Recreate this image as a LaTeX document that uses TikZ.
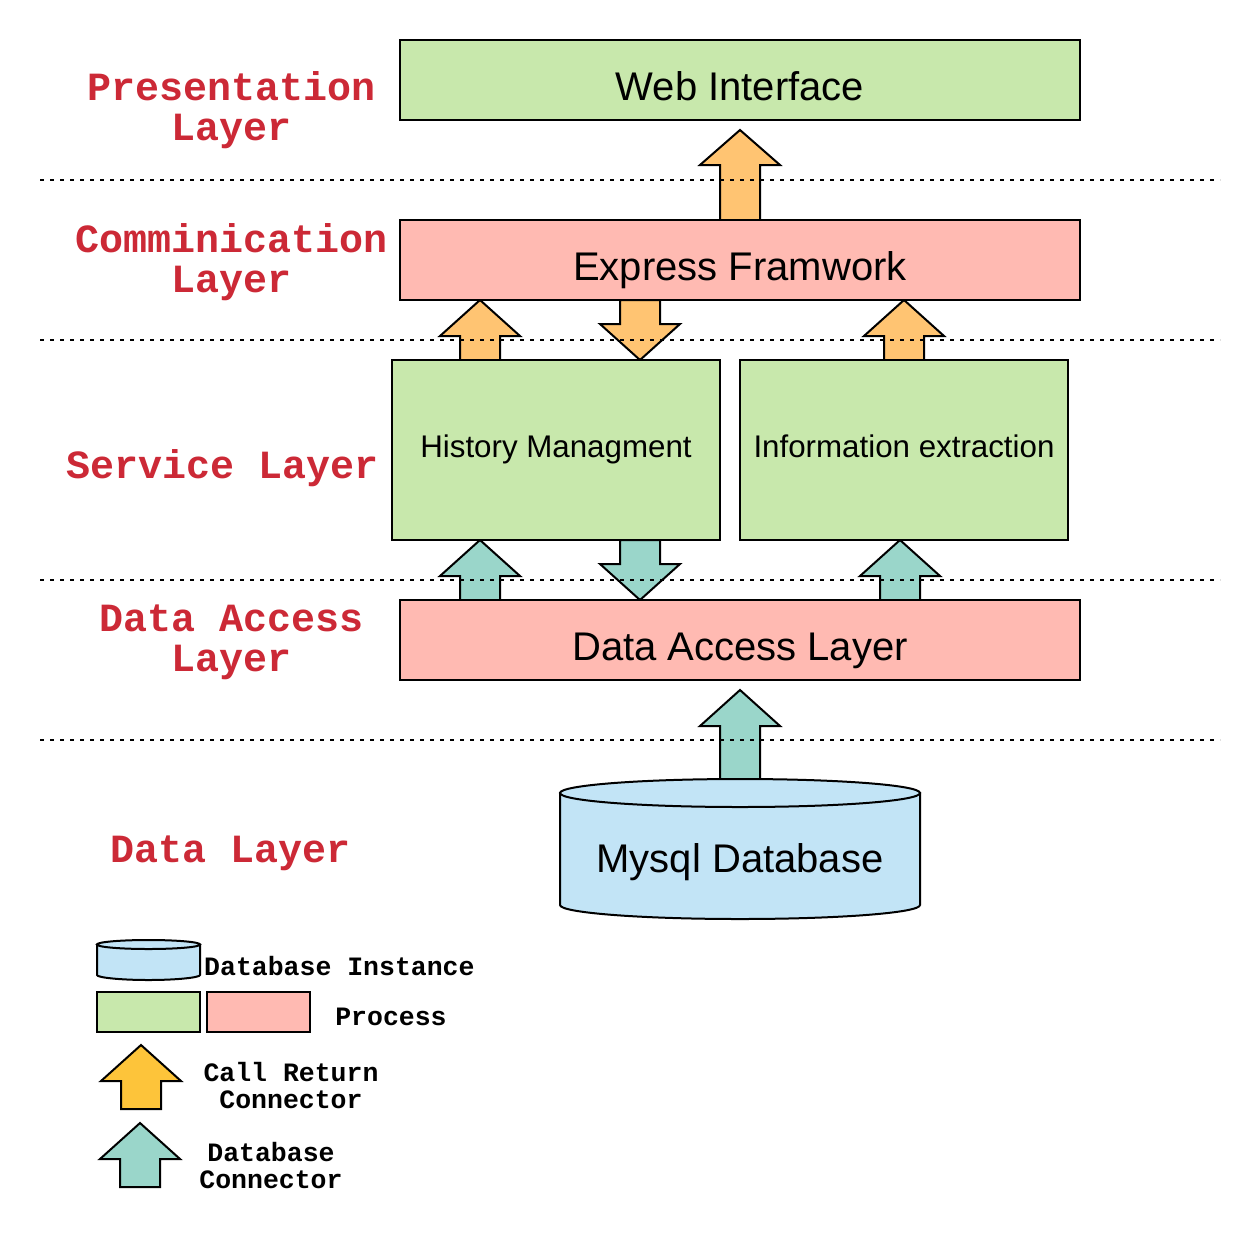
\documentclass[tikz,border=0pt]{standalone}
\usepackage{fontspec}
\setmainfont{Liberation Sans}
\setmonofont{Liberation Mono}
\definecolor{pgreen}{RGB}{200,232,172}
\definecolor{ppink}{RGB}{255,186,178}
\definecolor{corange}{RGB}{255,196,114}
\definecolor{lorange}{RGB}{253,196,58}
\definecolor{cteal}{RGB}{154,214,202}
\definecolor{dblue}{RGB}{194,228,246}
\definecolor{lred}{RGB}{204,41,54}
\newcommand\uparr[5]{% fill, cx, tip y, head base y, bottom y
  \draw[blk, fill=#1] (#2,#3) -- (#2+40,#4) -- (#2+20,#4) -- (#2+20,#5) -- (#2-20,#5) -- (#2-20,#4) -- (#2-40,#4) -- cycle;}
\newcommand\dnarr[5]{% fill, cx, top y, head base y, tip y
  \draw[blk, fill=#1] (#2-20,#3) -- (#2+20,#3) -- (#2+20,#4) -- (#2+40,#4) -- (#2,#5) -- (#2-40,#4) -- (#2-20,#4) -- cycle;}
\begin{document}
\begin{tikzpicture}[x=1pt,y=-1pt,
  blk/.style={line width=2pt, line join=miter},
  procbox/.style={draw, line width=2pt, inner sep=0pt},
  boxtext/.style={font=\fontsize{40}{41}\selectfont},
  svctext/.style={font=\fontsize{31.3}{32}\selectfont},
  layerlbl/.style={text=lred, align=center, font=\ttfamily\bfseries\fontsize{40}{40}\selectfont},
  legtext/.style={align=center, font=\ttfamily\bfseries\fontsize{26.5}{27}\selectfont},
  sep/.style={line width=2pt, dash pattern=on 4pt off 6pt}]
\useasboundingbox (0,0) rectangle (1260,1232);
\fill[white] (0,0) rectangle (1260,1232);

% block arrows
\uparr{corange}{740}{130}{165}{220}
\uparr{corange}{480}{300}{336}{360}
\dnarr{corange}{640}{300}{324}{360}
\uparr{corange}{904}{300}{336}{360}
\uparr{cteal}{480}{540}{576}{600}
\dnarr{cteal}{640}{540}{564}{600}
\uparr{cteal}{900}{540}{576}{600}
\uparr{cteal}{740}{690}{726}{780}

% separators
\coordinate (s1a) at (40,180); \coordinate (s1b) at (1220,180);
\coordinate (s2a) at (40,340); \coordinate (s2b) at (1220,340);
\coordinate (s3a) at (40,580); \coordinate (s3b) at (1220,580);
\coordinate (s4a) at (40,740); \coordinate (s4b) at (1220,740);
\draw[sep] (s1a) -- (s1b);
\draw[sep] (s2a) -- (s2b);
\draw[sep] (s3a) -- (s3b);
\draw[sep] (s4a) -- (s4b);

% process boxes
\draw[procbox, fill=pgreen] (400,40) rectangle (1080,120);
\node[boxtext, anchor=base] (web) at (740,100) {Web Interface};
\draw[procbox, fill=ppink] (400,220) rectangle (1080,300);
\node[boxtext, anchor=base] (express) at (740,280) {Express Framwork};
\draw[procbox, fill=pgreen] (392,360) rectangle (720,540);
\node[svctext, anchor=base] (hist) at (556,457) {History Managment};
\draw[procbox, fill=pgreen] (740,360) rectangle (1068,540);
\node[svctext, anchor=base] (info) at (904,457) {Information extraction};
\draw[procbox, fill=ppink] (400,600) rectangle (1080,680);
\node[boxtext, anchor=base] (dal) at (740,660) {Data Access Layer};

% database cylinder
\draw[blk, fill=dblue] (560,793) -- (560,905)
  .. controls (560,912.73) and (640.6,919) .. (740,919)
  .. controls (839.4,919) and (920,912.73) .. (920,905) -- (920,793) -- cycle;
\draw[blk, fill=dblue] (740,793) ellipse [x radius=180, y radius=14];
\node[boxtext, anchor=base] (db) at (740,872) {Mysql Database};

% layer labels
\node[layerlbl] (lpres) at (232,110) {Presentation\\Layer};
\node[layerlbl] (lcomm) at (232,262) {Comminication\\Layer};
\node[layerlbl] (lserv) at (223,468) {Service Layer};
\node[layerlbl] (ldacc) at (232,642) {Data Access\\Layer};
\node[layerlbl] (ldata) at (231,853) {Data Layer};

% legend
\draw[blk, fill=dblue] (97,944.5) -- (97,975)
  .. controls (97,977.5) and (120,980) .. (148.5,980)
  .. controls (177,980) and (200,977.5) .. (200,975) -- (200,944.5) -- cycle;
\draw[blk, fill=dblue] (148.5,944.5) ellipse [x radius=51.5, y radius=4.5];
\node[legtext, anchor=west, inner sep=0pt] (ldb) at (204,966) {Database Instance};
\draw[procbox, fill=pgreen] (97,992) rectangle (200,1032);
\draw[procbox, fill=ppink] (207,992) rectangle (310,1032);
\node[legtext] (lproc) at (391,1017) {Process};
\uparr{lorange}{141}{1045}{1081}{1109}
\node[legtext] (lcall) at (291,1086) {Call Return\\Connector};
\uparr{cteal}{140}{1123}{1159}{1187}
\node[legtext] (lconn) at (271,1166) {Database\\Connector};
\end{tikzpicture}
\end{document}
